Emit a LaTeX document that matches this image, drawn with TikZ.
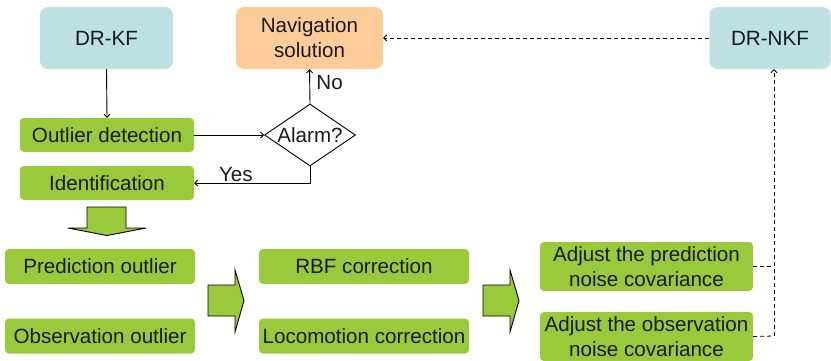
\documentclass[tikz,border=0pt]{standalone}
\usepackage{fontspec}
\setmainfont{Liberation Sans}
\usetikzlibrary{shapes.geometric,arrows.meta}
\definecolor{kfblue}{HTML}{BDE0E3}
\definecolor{navorange}{HTML}{FDCC99}
\definecolor{boxgreen}{HTML}{9BC93C}
\definecolor{txt}{HTML}{1A1A1A}
\begin{document}
\begin{tikzpicture}[x=1pt,y=-1pt,
  every node/.style={font=\fontsize{20.6}{25}\selectfont,text=txt},
  bigbox/.style={rounded corners=8pt,inner sep=0pt,align=center},
  gbox/.style={fill=boxgreen,rounded corners=4pt,inner sep=0pt,align=center},
  conn/.style={draw=black,line width=0.9pt,-{Straight Barb[length=3pt,width=6pt]}},
  dconn/.style={conn,dashed,dash pattern=on 4pt off 3pt},
  blockarrow/.style={fill=boxgreen,draw=black,line width=0.9pt,line join=miter}]
\useasboundingbox (0,0) rectangle (831,360);
% top boxes
\node[bigbox,fill=kfblue,minimum width=133pt,minimum height=62pt] (drkf) at (106.5,38) {DR-KF};
\node[bigbox,fill=navorange,minimum width=147pt,minimum height=62pt] (nav) at (309.5,38) {Navigation\\solution};
\node[bigbox,fill=kfblue,minimum width=121pt,minimum height=62pt] (drnkf) at (770,38) {DR-NKF};
% left column
\node[gbox,minimum width=174pt,minimum height=34pt] (det) at (107,135) {Outlier detection};
\node[gbox,minimum width=174pt,minimum height=34pt] (ident) at (107,183) {Identification};
\node[draw=black,line width=0.9pt,diamond,aspect=1.5,inner sep=0pt,minimum width=91pt,minimum height=62pt] (alarm) at (310,135) {Alarm?};
% bottom rows
\node[gbox,minimum width=190pt,minimum height=35pt] (pred) at (100,266.5) {Prediction outlier};
\node[gbox,minimum width=190pt,minimum height=35pt] (obs) at (100,336) {Observation outlier};
\node[gbox,minimum width=210pt,minimum height=35pt] (rbf) at (364,266.5) {RBF correction};
\node[gbox,minimum width=210pt,minimum height=35pt] (loco) at (364,336) {Locomotion correction};
\node[gbox,minimum width=213pt,minimum height=49pt] (adjp) at (646.5,266.5) {Adjust the prediction\\noise covariance};
\node[gbox,minimum width=213pt,minimum height=49pt] (adjo) at (646.5,336.5) {Adjust the observation\\noise covariance};
% connectors
\draw[conn] (drkf.south) -- (det.north);
\draw[conn] (det.east) -- (alarm.west);
\draw[conn] (alarm.north) -- node[right=3pt,pos=0.6] {No} (nav.south);
\draw[conn] (alarm.south) |- node[above,pos=0.82,yshift=-2pt] {Yes} (ident.east);
\draw[dconn] (drnkf.west) -- (nav.east);
\coordinate (vbot) at (774,336);
\draw[dashed,dash pattern=on 4pt off 3pt,line width=0.8pt] (adjp.east) -- (774,266.5);
\draw[dashed,dash pattern=on 4pt off 3pt,line width=0.8pt] (adjo.east) -- (vbot);
\draw[dconn] (vbot) -- (vbot |- drnkf.south);
% block arrows
\draw[blockarrow] (87,207) -- (126,207) -- (126,228) -- (146,228) -- (107,235.5) -- (68,228) -- (87,228) -- cycle;
\draw[blockarrow] (208,285) -- (235,285) -- (235,270) -- (244,300.5) -- (235,332) -- (235,316) -- (208,316) -- cycle;
\draw[blockarrow] (483,285) -- (510,285) -- (510,270) -- (519,300.5) -- (510,332) -- (510,316) -- (483,316) -- cycle;
\end{tikzpicture}
\end{document}
